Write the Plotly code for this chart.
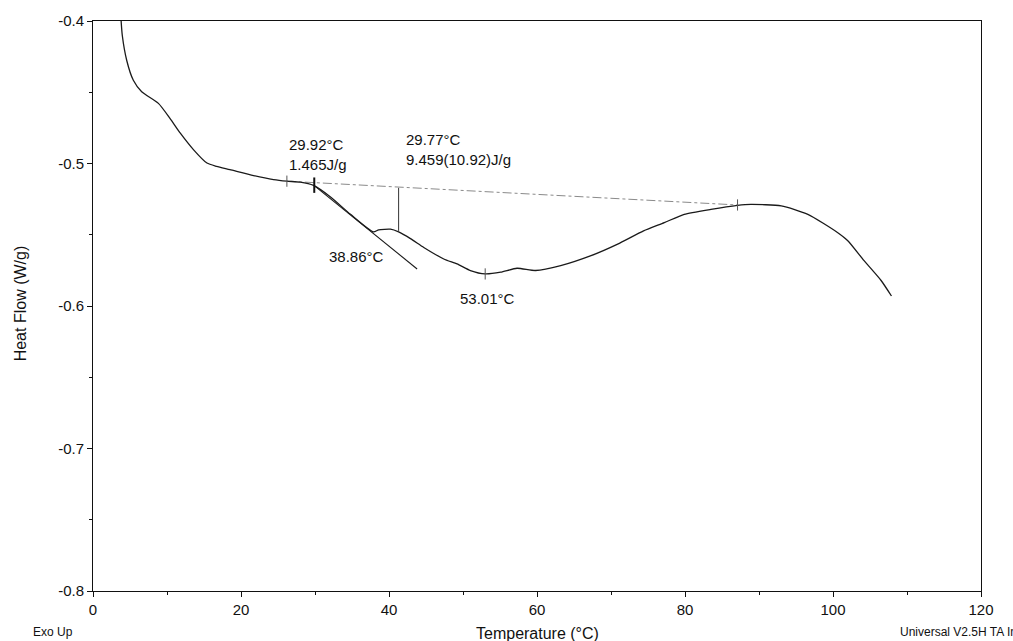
import plotly.graph_objects as go

# DSC trace: temperature (°C) vs heat flow (W/g)
temp = [3.8, 3.96, 4.56, 5.45, 6.58, 8.84, 10.4, 11.8, 13.6, 15.4, 16.7, 18.5,
        21.7, 24.4, 26.2, 28.0, 29.8, 32.1, 34.8, 37.9, 38.6, 40.2, 41.3, 42.9,
        44.7, 47.4, 49.2, 51.0, 53.0, 55.1, 57.3, 59.8, 63.2, 67.3, 70.9, 74.4,
        77.2, 79.9, 83.5, 87.1, 88.9, 93.0, 96.6, 100.6, 102.0, 104.2, 106.5, 107.9]
heat = [-0.400, -0.4102, -0.4277, -0.4416, -0.4497, -0.4578, -0.4683, -0.4787,
        -0.4904, -0.4997, -0.5020, -0.5043, -0.5085, -0.5113, -0.5124, -0.5131,
        -0.5154, -0.5235, -0.5357, -0.5480, -0.5466, -0.5461, -0.5480, -0.5527,
        -0.5589, -0.5670, -0.5705, -0.5751, -0.5775, -0.5763, -0.5735, -0.5751,
        -0.5717, -0.5647, -0.5566, -0.5473, -0.5415, -0.5357, -0.5322, -0.5294,
        -0.5287, -0.5298, -0.5357, -0.5484, -0.5542, -0.5682, -0.5821, -0.5930]

# integration baseline
base_t = [26.2, 87.1]
base_h = [-0.5124, -0.5291]

# onset tangent
tan_t = [29.9, 43.8]
tan_h = [-0.5155, -0.5740]

# drop line at the partial-area limit
drop_t = [41.3, 41.3]
drop_h = [-0.5171, -0.5473]

# small cursor marks on the trace
mark_t = [26.2, 53.0, 87.1]
mark_h = [-0.5124, -0.5775, -0.5291]
onset_t = [29.9]
onset_h = [-0.5152]

# analysis result labels with their anchor points
label_text = ["29.92°C<br>1.465J/g", "29.77°C<br>9.459(10.92)J/g", "38.86°C", "53.01°C"]
label_t = [26.25, 42.08, 31.66, 49.39]
label_h = [-0.4940, -0.4899, -0.5652, -0.5944]

x_ticks = [0, 20, 40, 60, 80, 100, 120]
y_ticks = [-0.8, -0.7, -0.6, -0.5, -0.4]

FONT = "Arial, Liberation Sans, Helvetica, sans-serif"
INK = "#111111"

fig = go.Figure()
fig.add_trace(go.Scatter(x=base_t, y=base_h, mode="lines",
                         line=dict(color="#8a8a8a", width=1, dash="dashdot"),
                         hoverinfo="skip"))
fig.add_trace(go.Scatter(x=temp, y=heat, mode="lines",
                         line=dict(color="#1a1a1a", width=1.3, shape="spline", smoothing=0.6)))
fig.add_trace(go.Scatter(x=tan_t, y=tan_h, mode="lines",
                         line=dict(color="#1a1a1a", width=1.1)))
fig.add_trace(go.Scatter(x=drop_t, y=drop_h, mode="lines",
                         line=dict(color="#333333", width=1)))
fig.add_trace(go.Scatter(x=mark_t, y=mark_h, mode="markers",
                         marker=dict(symbol="line-ns-open", size=8, color="#555555",
                                     line=dict(color="#555555", width=1))))
fig.add_trace(go.Scatter(x=onset_t, y=onset_h, mode="markers",
                         marker=dict(symbol="line-ns-open", size=11, color=INK,
                                     line=dict(color=INK, width=2))))

for txt, tx, hy in zip(label_text, label_t, label_h):
    fig.add_annotation(x=tx, y=hy, xref="x", yref="y", text=txt, showarrow=False,
                       xanchor="left", yanchor="middle", align="left",
                       font=dict(family=FONT, size=15, color=INK))

fig.add_annotation(x=0.5, y=-0.075, xref="paper", yref="paper", text="Temperature (°C)",
                   showarrow=False, xanchor="center", yanchor="middle",
                   font=dict(family=FONT, size=16, color=INK))
fig.add_annotation(x=-0.082, y=0.505, xref="paper", yref="paper", text="Heat Flow (W/g)",
                   showarrow=False, textangle=-90, xanchor="center", yanchor="middle",
                   font=dict(family=FONT, size=16, color=INK))
fig.add_annotation(x=-0.07, y=-0.072, xref="paper", yref="paper", text="Exo Up",
                   showarrow=False, xanchor="left", yanchor="middle",
                   font=dict(family=FONT, size=12, color=INK))
fig.add_annotation(x=0.906, y=-0.072, xref="paper", yref="paper", text="Universal V2.5H TA Instruments",
                   showarrow=False, xanchor="left", yanchor="middle",
                   font=dict(family=FONT, size=12, color=INK))

axis_common = dict(showgrid=False, zeroline=False, showline=True, linecolor=INK,
                   linewidth=1, mirror=True, ticks="outside", ticklen=5, tickcolor=INK,
                   tickfont=dict(family=FONT, size=15, color=INK))

fig.update_xaxes(range=[0, 120], tickvals=x_ticks, ticktext=[str(v) for v in x_ticks],
                 minor=dict(tickvals=[10, 30, 50, 70, 90, 110], ticks="outside",
                            ticklen=3, tickcolor=INK),
                 **axis_common)
fig.update_yaxes(range=[-0.8, -0.4], tickvals=y_ticks, ticktext=[f"{v:.1f}" for v in y_ticks],
                 minor=dict(tickvals=[-0.75, -0.65, -0.55, -0.45], ticks="outside",
                            ticklen=3, tickcolor=INK),
                 **axis_common)

fig.update_layout(width=1013, height=641, showlegend=False,
                  paper_bgcolor="white", plot_bgcolor="white",
                  margin=dict(l=93, r=32, t=17, b=50),
                  font=dict(family=FONT, color=INK))

fig.write_html("out.html")
